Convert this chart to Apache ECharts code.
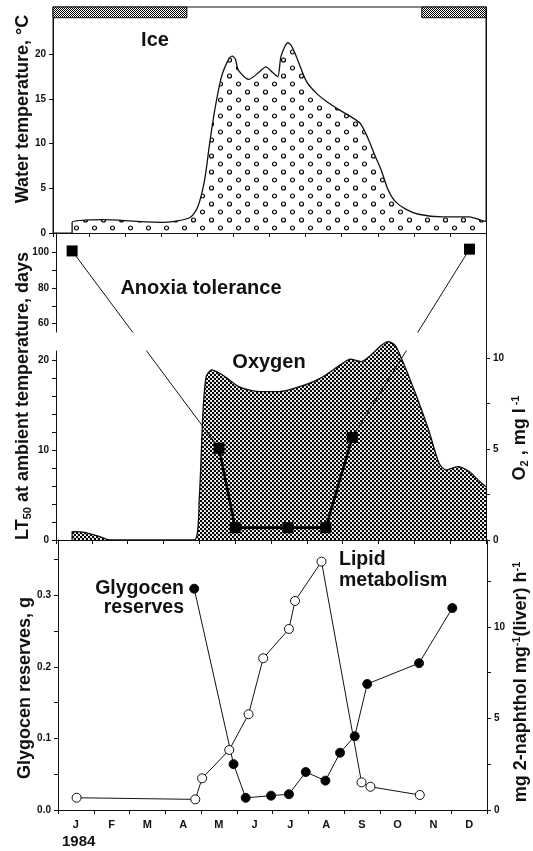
<!DOCTYPE html>
<html><head><meta charset="utf-8">
<script src="https://cdn.jsdelivr.net/npm/echarts@6/dist/echarts.min.js"></script>
<style>html,body{margin:0;padding:0;background:#fff}#c{width:533px;height:851px}</style>
</head><body><div id="c"></div>
<script>
// ---------- DATA (x = months since 1 Jan 1984) ----------
const monthLabels = ['J','F','M','A','M','J','J','A','S','O','N','D'];
const yearLabel = '1984';
const iceSpans = [[0, 3.71], [10.22, 12]];

const tempMonths = [0.53,0.53,1.0,1.4,2.32,3.07,3.45,3.82,4.01,4.2,4.34,4.48,4.67,4.88,4.97,5.05,5.14,5.43,5.71,5.9,6.08,6.23,6.32,6.51,6.6,6.74,7.02,7.31,7.59,7.97,8.34,8.53,8.72,8.91,9.1,9.28,9.47,9.76,10.13,10.79,11.54,11.92,12];
const tempValues = [0,1.2,1.46,1.5,1.3,1.2,1.35,1.8,2.9,5.9,10.0,13.7,17.5,19.55,19.8,19.5,18.2,17.2,18.0,18.6,18.0,17.5,19.8,21.3,21.0,19.8,17.0,15.6,14.7,13.7,12.8,12.2,10.7,8.8,7.0,4.9,3.6,2.7,2.1,1.8,1.8,1.35,1.3];

const o2Months = [0.45,0.45,0.8,1.2,1.5,3.86,4.0,4.1,4.19,4.34,4.48,4.72,5.1,5.67,6.23,6.8,7.37,7.94,8.22,8.51,8.79,9.08,9.27,9.46,9.64,10.03,10.4,10.69,10.88,11.21,11.54,11.83,12];
const o2Values = [0,0.46,0.42,0.2,0,0,2.38,6.96,8.97,9.34,9.25,8.97,8.42,8.15,8.15,8.42,8.88,9.62,9.93,9.8,10.16,10.7,10.9,10.7,9.98,8.06,6.04,4.21,3.85,4.03,3.75,3.2,2.93];

const anoxMonths = [0.45,4.55,5.0,6.47,7.53,8.27,11.54];
const anoxDays   = [101,10.2,1.37,1.37,1.37,11.4,102];

const glyMonths = [3.81,4.91,5.25,5.96,6.46,6.93,7.48,7.89,8.30,8.65,10.1,11.03];
const glyValues = [0.309,0.064,0.017,0.020,0.022,0.053,0.041,0.080,0.103,0.176,0.205,0.282];

const lipMonths = [0.52,3.84,4.03,4.79,5.33,5.74,6.46,6.63,7.37,8.49,8.74,10.12];
const lipValues = [0.67,0.58,1.73,3.28,5.23,8.29,9.89,11.42,13.57,1.51,1.27,0.82];

// tick / label values
const tempTicks = [0,5,10,15,20];
const anoxUpperTicks = [60,70,80,90,100], anoxUpperLabels = [60,80,100];
const anoxLowerTicks = [0,2,4,6,8,10,12,14,16,18,20], anoxLowerLabels = [0,10,20];
const o2Ticks = [0,2.5,5,7.5,10], o2Labels = [0,5,10];
const glyTicks = [0,0.05,0.1,0.15,0.2,0.25,0.3,0.35], glyLabels = [0,0.1,0.2,0.3];
const lipTicks = [0,2.5,5,7.5,10,12.5], lipLabels = [0,5,10];

// ---------- CHART ----------
const F = '"Liberation Sans", Arial, Helvetica, sans-serif';
const K = '#111';
const zip = (a,b) => a.map((v,i)=>[v,b[i]]);

function makePattern(w,h,draw){
  const c=document.createElement('canvas'); c.width=w; c.height=h;
  const g=c.getContext('2d'); g.fillStyle='#fff'; g.fillRect(0,0,w,h); draw(g);
  return {image:c, repeat:'repeat'};
}
const ringPat = makePattern(18,16,g=>{g.strokeStyle='#000';g.lineWidth=1.2;
  [[4.5,4],[13.5,12]].forEach(([x,y])=>{g.beginPath();g.arc(x,y,2.0,0,Math.PI*2);g.stroke();});});
const dotPat = makePattern(4,4,g=>{g.fillStyle='#000';
  [[1,1],[3,3]].forEach(([x,y])=>{g.beginPath();g.arc(x,y,1.25,0,Math.PI*2);g.fill();});});
const icePat = makePattern(2,2,g=>{g.fillStyle='#000';g.fillRect(0,0,1,1);g.fillRect(1,1,1,1);});

const chart = echarts.init(document.getElementById('c'), null, {renderer:'canvas'});

function xAx(grid, extra){
  return Object.assign({type:'value', gridIndex:grid, min:0, max:12, interval:1,
    axisLine:{show:true, onZero:false, lineStyle:{color:K,width:1}},
    axisTick:{show:true, inside:false, length:4, lineStyle:{color:K,width:1}},
    axisLabel:{show:false}, splitLine:{show:false}}, extra||{});
}
function yAx(grid, pos, min, max, ticks, labels, fmt){
  return {type:'value', gridIndex:grid, position:pos, min, max,
    axisLine:{show:true, onZero:false, lineStyle:{color:K,width:1}},
    axisTick: ticks ? {show:true, inside:false, length:4, customValues:ticks, lineStyle:{color:K,width:1}} : {show:false},
    axisLabel: labels ? {show:true, customValues:labels, formatter: fmt || (v=>String(v)),
      color:K, fontFamily:F, fontWeight:'bold', fontSize:10, margin:7} : {show:false},
    splitLine:{show:false}};
}

const grids = [
  {left:53, right:47, top:7,   height:226},
  {left:56, right:47, top:233, height:99},
  {left:56, right:47, top:351, height:189},
  {left:58, right:46, top:540, height:270}
].map(g=>Object.assign({containLabel:false, outerBoundsMode:'none'}, g));

const xAxes = [
  xAx(0),
  xAx(1, {show:false}),
  xAx(2),
  xAx(3, {axisLabel:{show:true, customValues: monthLabels.map((_,i)=>i+0.5),
    formatter: v=>monthLabels[Math.floor(v)], color:K, fontFamily:F, fontWeight:'bold', fontSize:11, margin:9}})
];
const yAxes = [
  yAx(0,'left',0,25.3,tempTicks,tempTicks),             //0
  yAx(0,'right',0,25.3,null,null),                       //1
  yAx(1,'left',55.3,111.1,anoxUpperTicks,anoxUpperLabels),//2
  yAx(1,'right',55.3,111.1,null,null),                   //3
  yAx(2,'left',0,21,anoxLowerTicks,anoxLowerLabels),      //4
  yAx(2,'right',0,10.38,o2Ticks,o2Labels),                //5
  yAx(3,'left',0,0.377,glyTicks,glyLabels,v=>v.toFixed(1)),//6
  yAx(3,'right',0,14.75,lipTicks,lipLabels)               //7
];

function txt(x,y,text,size,extra){
  return Object.assign({type:'text', x, y, z:50, style:Object.assign({text, fill:K, fontFamily:F, fontWeight:'bold', fontSize:size,
    align:'center', verticalAlign:'middle', textAlign:'center', textVerticalAlign:'middle'}, (extra&&extra.style)||{})},
    extra? (({style,...r})=>r)(extra) : {});
}
const R = Math.PI/2;
const richBase = (s)=>({a:{fontSize:s,fontWeight:'bold',fontFamily:F,fill:K,color:K,lineHeight:s+2},
  s:{fontSize:Math.round(s*0.6),fontWeight:'bold',fontFamily:F,fill:K,color:K,lineHeight:10,verticalAlign:'bottom'},
  p:{fontSize:Math.round(s*0.6),fontWeight:'bold',fontFamily:F,fill:K,color:K,lineHeight:10,verticalAlign:'top'}});

const graphics = [
  txt(23,109,'Water temperature, °C',18,{rotation:R}),
  txt(23,396,'{a|LT}{s|50}{a| at ambient temperature, days}',18,{rotation:R, style:{rich:richBase(18)}}),
  txt(520,438,'{a|O}{s|2}{a| , mg l}{p| -1}',18,{rotation:R, style:{rich:richBase(18)}}),
  txt(25,688,'Glygocen reserves, g',18,{rotation:R}),
  txt(521,682,'{a|mg 2-naphthol mg}{p|-1}{a|(liver) h}{p|-1}',18,{rotation:R, style:{rich:richBase(18)}}),
  txt(155,40,'Ice',20),
  txt(201,288,'Anoxia tolerance',20),
  txt(269,362,'Oxygen',20),
  txt(184,598,'Glygocen\nreserves',19.5,{style:{align:'right',textAlign:'right',lineHeight:19}}),
  txt(339,570,'Lipid\nmetabolism',19.5,{style:{align:'left',textAlign:'left',lineHeight:21}}),
  txt(62,842,yearLabel,15,{style:{align:'left',textAlign:'left'}}),
  {type:'line', z:40, shape:{x1:486.5,y1:330,x2:486.5,y2:353}, style:{stroke:K,lineWidth:1}}
];

function buildSeries(anoxU, anoxL){
  const isUpper = anoxDays.map(v=>v>40);
  const thickL = [];
  anoxMonths.forEach((m,i)=>{ if(!isUpper[i]) thickL.push([m,anoxDays[i]]); });
  const sqU = anoxMonths.map((m,i)=>[m,anoxDays[i]]).filter((_,i)=>isUpper[i]);
  const sqL = thickL;
  const sq = {symbol:'rect', symbolSize:11, itemStyle:{color:'#000', opacity:1}, emphasis:{disabled:true}, z:5};
  return [
    {type:'line', xAxisIndex:0, yAxisIndex:0, data:zip(tempMonths,tempValues), symbol:'none', smooth:0.25,
      lineStyle:{color:K,width:1.3}, areaStyle:{color:ringPat, opacity:1}, z:2,
      markArea:{silent:true, itemStyle:{color:icePat, opacity:1, borderColor:K, borderWidth:1},
        data: iceSpans.map(s=>[{coord:[s[0],24.1]},{coord:[s[1],25.3]}])}},
    {type:'line', xAxisIndex:2, yAxisIndex:5, data:zip(o2Months,o2Values), symbol:'none', smooth:0.25, clip:false,
      lineStyle:{color:K,width:1.3}, areaStyle:{color:dotPat, opacity:1, origin:'start'}, z:1},
    // anoxia: upper grid
    {type:'line', xAxisIndex:1, yAxisIndex:2, data:anoxU, symbol:'none', clip:true, lineStyle:{color:K,width:1}, z:3},
    Object.assign({type:'scatter', xAxisIndex:1, yAxisIndex:2, data:sqU}, sq),
    // anoxia: lower grid
    {type:'line', xAxisIndex:2, yAxisIndex:4, data:anoxL, symbol:'none', clip:true, lineStyle:{color:K,width:1}, z:3},
    {type:'line', xAxisIndex:2, yAxisIndex:4, data:thickL, symbol:'none', clip:true, lineStyle:{color:'#000',width:2.6}, z:4},
    Object.assign({type:'scatter', xAxisIndex:2, yAxisIndex:4, data:sqL}, sq),
    // bottom
    {type:'line', xAxisIndex:3, yAxisIndex:6, data:zip(glyMonths,glyValues), symbol:'circle', symbolSize:9, showSymbol:true,
      lineStyle:{color:K,width:1}, itemStyle:{color:'#000', borderColor:K, borderWidth:1, opacity:1}, z:4},
    {type:'line', xAxisIndex:3, yAxisIndex:7, data:zip(lipMonths,lipValues), symbol:'circle', symbolSize:9, showSymbol:true,
      lineStyle:{color:K,width:1}, itemStyle:{color:'#fff', borderColor:K, borderWidth:1, opacity:1}, z:4}
  ];
}

const base = {animation:false, backgroundColor:'#fff', grid:grids, xAxis:xAxes, yAxis:yAxes, graphic:graphics,
  series: buildSeries([], [])};
chart.setOption(base);

// convert anoxia points across the broken axis using the library's own scales
const upF = {xAxisIndex:1, yAxisIndex:2}, loF = {xAxisIndex:2, yAxisIndex:4};
const anoxU = [], anoxL = [];
anoxMonths.forEach((m,i)=>{
  const v = anoxDays[i];
  if (v > 40) {
    anoxU.push([m,v]);
    anoxL.push(chart.convertFromPixel(loF, chart.convertToPixel(upF,[m,v])));
  } else {
    anoxL.push([m,v]);
    anoxU.push(chart.convertFromPixel(upF, chart.convertToPixel(loF,[m,v])));
  }
});
chart.setOption({series: buildSeries(anoxU, anoxL)});

// top panel frame
chart.setOption({grid:[{show:true, borderColor:K, borderWidth:1, backgroundColor:'transparent'}]});
</script></body></html>
